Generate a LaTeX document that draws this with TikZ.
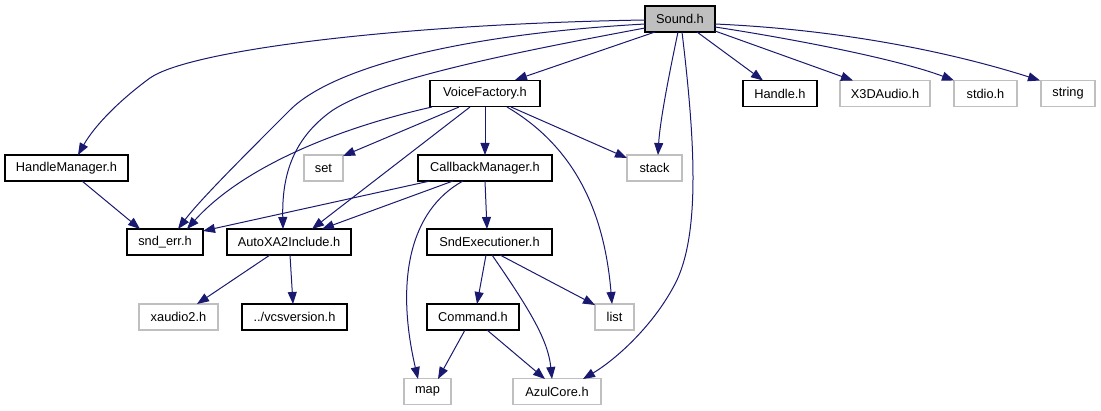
\documentclass[tikz,border=0pt]{standalone}
\usepackage{fontspec}
\setmainfont{Liberation Sans}
\usetikzlibrary{arrows.meta,calc}
\definecolor{edgeblue}{HTML}{191970}
\definecolor{lgray}{HTML}{BFBFBF}
\tikzset{
  hbox/.style={draw=black,line width=1.1pt,fill=white,minimum height=26pt,inner sep=0pt,font=\fontsize{12.8}{14}\selectfont},
  gbox/.style={hbox,draw=lgray},
  rootbox/.style={hbox,fill=lgray},
  edge/.style={draw=edgeblue,line width=1pt,-{Triangle[length=12pt,width=9pt]}}
}
\begin{document}
\begin{tikzpicture}[x=1pt,y=-1pt]
\useasboundingbox (0,0) rectangle (1101,411);
% row 0
\node[rootbox,minimum width=70pt] (sound) at (680,19) {Sound.h};
% row 1
\node[hbox,minimum width=110pt] (vf) at (485,93.5) {VoiceFactory.h};
\node[hbox,minimum width=74pt] (handle) at (780,93.5) {Handle.h};
\node[gbox,minimum width=90pt] (x3d) at (885,93.5) {X3DAudio.h};
\node[gbox,minimum width=63pt] (stdio) at (985.5,93.5) {stdio.h};
\node[gbox,minimum width=54pt] (string) at (1068,93.5) {string};
% row 2
\node[hbox,minimum width=123pt] (hm) at (66.5,168) {HandleManager.h};
\node[gbox,minimum width=39pt] (set) at (323.5,168) {set};
\node[hbox,minimum width=134pt] (cbm) at (485,168) {CallbackManager.h};
\node[gbox,minimum width=55pt] (stack) at (654.5,168) {stack};
% row 3
\node[hbox,minimum width=76pt] (snderr) at (165,242) {snd\_err.h};
\node[hbox,minimum width=124pt] (auto) at (289,242) {AutoXA2Include.h};
\node[hbox,minimum width=125pt] (sndexec) at (489.5,242) {SndExecutioner.h};
% row 4
\node[gbox,minimum width=79pt] (xaudio) at (178.5,317) {xaudio2.h};
\node[hbox,minimum width=105pt] (vcs) at (294.5,317) {../vcsversion.h};
\node[hbox,minimum width=92pt] (command) at (473,317) {Command.h};
\node[gbox,minimum width=39pt] (list) at (614.5,317) {list};
% row 5
\node[gbox,minimum width=47pt] (map) at (427.5,391.5) {map};
\node[gbox,minimum width=88pt] (azul) at (557,391.5) {AzulCore.h};

% Sound.h edges
\draw[edge] ($(sound)+(-35,1)$) .. controls (400,24) and (190,50) .. (150,78) .. controls (120,100) and (95,125) .. ($(hm)+(11.5,-13)$);
\draw[edge] ($(sound)+(-35,5)$) .. controls (450,35) and (330,70) .. (290,110) .. controls (240,160) and (200,200) .. ($(snderr)+(13,-13)$);
\draw[edge] ($(sound)+(-35,9)$) .. controls (500,55) and (380,80) .. (333,110) .. controls (290,140) and (282,180) .. ($(auto)+(-6,-13)$);
\draw[edge] ($(sound)+(-25,13)$) -- ($(vf)+(30,-13.5)$);
\draw[edge] ($(sound)+(-2,13)$) .. controls (670,70) and (660,120) .. ($(stack)+(3.5,-13)$);
\draw[edge] ($(sound)+(2,13)$) .. controls (695,140) and (700,230) .. (677,280) .. controls (655,325) and (615,360) .. ($(azul)+(26,-12.5)$);
\draw[edge] ($(sound)+(17,13)$) -- ($(handle)+(-17,-13)$);
\draw[edge] ($(sound)+(35,12)$) -- ($(x3d)+(-32,-13)$);
\draw[edge] ($(sound)+(35,8)$) .. controls (800,40) and (900,60) .. ($(stdio)+(-31.5,-13)$);
\draw[edge] ($(sound)+(35,5)$) .. controls (850,30) and (960,55) .. ($(string)+(-28,-13)$);

% VoiceFactory.h edges
\draw[edge] ($(vf)+(-53,13.5)$) .. controls (330,130) and (240,170) .. ($(snderr)+(22,-13)$);
\draw[edge] ($(vf)+(-26,13.5)$) -- ($(set)+(19.5,-12)$);
\draw[edge] ($(vf)+(-15,13.5)$) -- ($(auto)+(23,-13)$);
\draw[edge] ($(vf)+(0,13.5)$) -- ($(cbm)+(0,-13)$);
\draw[edge] ($(vf)+(26,13.5)$) -- ($(stack)+(-27.5,-10)$);
\draw[edge] ($(vf)+(22,13.5)$) .. controls (580,150) and (605,220) .. ($(list)+(-2.5,-13)$);

% CallbackManager.h edges
\draw[edge] ($(cbm)+(-55,13)$) -- ($(snderr)+(38,-11)$);
\draw[edge] ($(cbm)+(-32,13)$) -- ($(auto)+(33,-13)$);
\draw[edge] ($(cbm)+(-22,13)$) .. controls (410,210) and (395,280) .. ($(map)+(-9.5,-12.5)$);
\draw[edge] ($(cbm)+(0,13)$) -- ($(sndexec)+(-2.5,-13)$);

% HandleManager.h
\draw[edge] ($(hm)+(15.5,13)$) -- ($(snderr)+(-25,-13)$);

% AutoXA2Include.h
\draw[edge] ($(auto)+(-19,13)$) -- ($(xaudio)+(18.5,-13)$);
\draw[edge] ($(auto)+(1,13)$) -- ($(vcs)+(-1.5,-13)$);

% SndExecutioner.h
\draw[edge] ($(sndexec)+(-3.5,13)$) -- ($(command)+(4,-13)$);
\draw[edge] ($(sndexec)+(10.5,13)$) -- ($(list)+(-19.5,-12)$);
\draw[edge] ($(sndexec)+(2.5,13)$) .. controls (530,310) and (548,340) .. ($(azul)+(-5,-12.5)$);

% Command.h
\draw[edge] ($(command)+(-8,13)$) -- ($(map)+(10.5,-12.5)$);
\draw[edge] ($(command)+(14,13)$) -- ($(azul)+(-12,-12.5)$);
\end{tikzpicture}
\end{document}
